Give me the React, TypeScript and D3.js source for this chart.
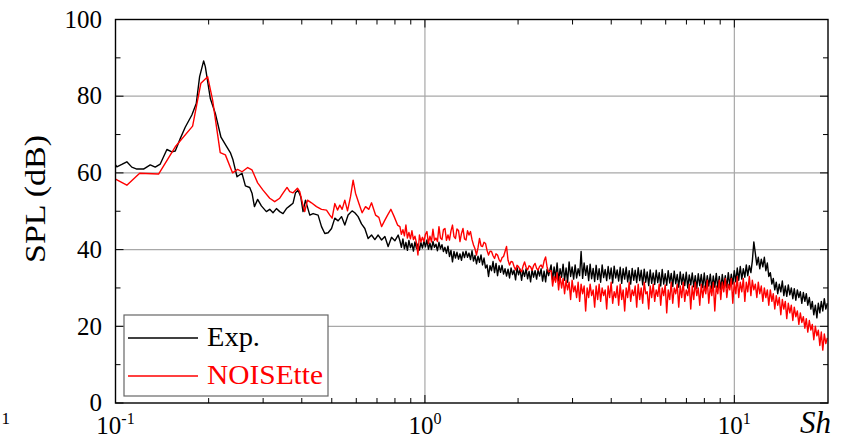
import React from "react";
import * as d3 from "d3";

// Exp. (experiment) low-frequency points: [Sh, SPL dB]
const expLow: [number, number][] = [
  [0.1, 62.1], [0.101, 61.6], [0.1048, 62.2], [0.1088, 62.9], [0.1129, 61.5], [0.1172, 61.0],
  [0.1232, 61.0], [0.1295, 62.1], [0.1344, 61.5], [0.1395, 62.3], [0.1466, 66.1], [0.1521, 65.5],
  [0.156, 65.7], [0.162, 69.0], [0.168, 71.9], [0.1765, 75.1], [0.1824, 78.1], [0.187, 85.1],
  [0.1927, 89.2], [0.1951, 87.7], [0.2025, 79.4], [0.2102, 75.5], [0.2192, 69.3], [0.2292, 66.7],
  [0.235, 65.3], [0.2397, 63.4], [0.247, 59.0], [0.2563, 59.9], [0.2629, 56.6], [0.2715, 56.2],
  [0.2762, 54.7], [0.2812, 51.2], [0.288, 53.1], [0.2961, 51.4], [0.3073, 49.9], [0.3151, 50.5],
  [0.3229, 49.6], [0.3312, 50.7], [0.3394, 49.9], [0.3479, 49.4], [0.3568, 50.7], [0.3657, 51.4],
  [0.3748, 52.1], [0.3816, 54.8], [0.389, 55.5], [0.3969, 53.8], [0.4037, 49.9], [0.4111, 52.9],
  [0.4245, 49.0], [0.4351, 49.4], [0.4516, 49.0], [0.4632, 46.0], [0.4747, 44.2], [0.4866, 44.4],
  [0.4991, 45.5], [0.5114, 48.2], [0.5241, 47.5], [0.5375, 48.6], [0.5509, 46.4], [0.5646, 49.0],
  [0.5816, 50.1], [0.5935, 49.6], [0.6082, 48.6], [0.6238, 46.7], [0.6394, 45.5], [0.6553, 42.9],
  [0.6721, 43.8], [0.6889, 42.6], [0.7061, 43.8], [0.7243, 42.5], [0.7423, 43.4], [0.7605, 40.8],
  [0.78, 43.2], [0.7995, 42.3], [0.8194, 43.8],
];

// NOISEtte (simulation) low-frequency points: [Sh, SPL dB]
const noiseLow: [number, number][] = [
  [0.1, 58.4], [0.1088, 56.8], [0.1197, 59.9], [0.1378, 59.7], [0.156, 66.8], [0.1775, 72.2],
  [0.1888, 83.4], [0.1985, 85.1], [0.206, 79.0], [0.218, 65.3], [0.2265, 64.7], [0.239, 60.0],
  [0.248, 60.9], [0.2565, 60.3], [0.2675, 61.4], [0.276, 60.8], [0.288, 57.4], [0.2997, 55.5],
  [0.3151, 53.4], [0.327, 52.5], [0.3394, 53.4], [0.3479, 54.7], [0.3584, 56.2], [0.3657, 55.1],
  [0.3748, 54.8], [0.3873, 56.0], [0.394, 55.1], [0.402, 52.1], [0.4089, 49.9], [0.4172, 52.9],
  [0.4298, 52.2], [0.4462, 51.2], [0.4632, 50.5], [0.4807, 50.3], [0.4928, 49.0], [0.5012, 48.2],
  [0.5114, 52.0], [0.5218, 50.3], [0.5308, 51.6], [0.54, 50.5], [0.5509, 52.9], [0.5621, 50.1],
  [0.5748, 53.8], [0.5861, 58.1], [0.5966, 54.7], [0.6115, 52.1], [0.6267, 49.6], [0.6428, 51.2],
  [0.6588, 50.5], [0.6721, 52.2], [0.6926, 49.0], [0.7097, 48.4], [0.7243, 46.0], [0.7423, 47.7],
  [0.7573, 49.0], [0.7762, 50.5], [0.7954, 48.6], [0.8159, 46.4],
];

// Mid-frequency shared Sh grid
const shMid: number[] = [
  0.8301, 0.8394, 0.8489, 0.8584, 0.8681, 0.8778, 0.8877, 0.8977, 0.9078, 0.918,
  0.9283, 0.9387, 0.9493, 0.96, 0.9708, 0.9817, 0.9927, 1.0038, 1.0151, 1.0265,
  1.0381, 1.0497, 1.0615, 1.0735, 1.0855, 1.0977, 1.1101, 1.1226, 1.1352, 1.1479,
  1.1608, 1.1739, 1.1871, 1.2004, 1.2139, 1.2276, 1.2414, 1.2553, 1.2694, 1.2837,
  1.2981, 1.3127, 1.3275, 1.3424, 1.3575, 1.3727, 1.3882, 1.4038, 1.4196, 1.4355,
  1.4516, 1.468, 1.4845, 1.5011, 1.518, 1.5351, 1.5523, 1.5698, 1.5874, 1.6052,
  1.6233, 1.6415, 1.66, 1.6786, 1.6975, 1.7166, 1.7359, 1.7554, 1.7751, 1.7951,
  1.8152, 1.8356, 1.8563, 1.8771, 1.8982, 1.9196, 1.9411, 1.963, 1.985, 2.0073,
  2.0299, 2.0527, 2.0758, 2.0991, 2.1227, 2.1466, 2.1707, 2.1951, 2.2198, 2.2447,
  2.27, 2.2955, 2.3213, 2.3474, 2.3737, 2.4004, 2.4274, 2.4547, 2.4823, 2.5102,
];

const expMid: number[] = [
  42.3, 40.6, 42.8, 40.2, 41.9, 39.8, 42.4, 40.5, 41.6, 39.6,
  42.0, 40.3, 41.5, 39.9, 41.8, 40.4, 42.2, 40.7, 42.5, 40.1,
  41.7, 40.0, 42.1, 40.6, 41.4, 39.7, 41.9, 40.2, 41.3, 39.5,
  40.6, 39.0, 40.9, 38.2, 39.8, 36.8, 39.5, 37.8, 39.3, 37.5,
  38.9, 37.2, 39.4, 37.9, 39.6, 38.0, 39.1, 37.4, 39.7, 37.0,
  38.5, 36.3, 38.3, 36.7, 38.6, 36.0, 37.8, 35.2, 36.0, 33.0,
  35.8, 34.5, 36.9, 34.0, 36.4, 33.2, 35.8, 34.1, 35.9, 33.6,
  35.0, 33.1, 34.9, 32.6, 35.2, 33.5, 34.6, 32.1, 35.3, 33.4,
  34.9, 32.0, 34.6, 33.0, 35.0, 32.4, 34.3, 31.6, 34.8, 32.8,
  34.5, 32.3, 34.7, 33.1, 35.0, 31.8, 34.4, 31.6, 34.9, 33.2,
];

const noiseMid: number[] = [
  46.0, 44.0, 45.2, 43.6, 46.4, 43.0, 44.5, 42.8, 44.9, 42.6,
  43.5, 41.8, 38.6, 43.8, 42.0, 43.2, 42.1, 44.0, 44.7, 41.6,
  43.5, 42.0, 45.3, 42.4, 43.0, 42.1, 46.0, 43.0, 42.6, 45.2,
  45.5, 42.4, 43.8, 42.5, 44.9, 46.4, 43.4, 42.9, 45.4, 45.0,
  42.1, 44.2, 45.5, 42.8, 42.5, 44.9, 43.8, 44.7, 42.6, 41.2,
  40.2, 38.6, 40.5, 42.9, 41.0, 40.8, 41.9, 41.6, 39.8, 38.6,
  39.6, 39.5, 38.4, 37.7, 38.9, 38.6, 37.4, 36.8, 37.9, 38.2,
  39.5, 40.8, 37.2, 36.0, 36.9, 36.8, 35.6, 34.7, 35.9, 35.5,
  34.8, 34.2, 35.7, 36.8, 35.4, 34.7, 35.8, 35.5, 34.6, 35.8,
  36.4, 35.1, 34.7, 35.6, 36.0, 35.2, 37.0, 38.1, 35.4, 34.2,
];

// High-frequency shared Sh grid (dense spectrum)
const shHigh: number[] = [
  2.557, 2.586, 2.615, 2.644, 2.674, 2.704, 2.734, 2.765, 2.796, 2.827,
  2.859, 2.891, 2.924, 2.957, 2.99, 3.024, 3.058, 3.092, 3.127, 3.162,
  3.197, 3.233, 3.27, 3.307, 3.344, 3.382, 3.419, 3.457, 3.497, 3.536,
  3.576, 3.616, 3.656, 3.697, 3.739, 3.781, 3.824, 3.867, 3.91, 3.954,
  3.998, 4.043, 4.089, 4.135, 4.181, 4.228, 4.276, 4.324, 4.372, 4.421,
  4.471, 4.521, 4.572, 4.623, 4.676, 4.729, 4.781, 4.835, 4.889, 4.944,
  5.0, 5.056, 5.113, 5.17, 5.228, 5.287, 5.346, 5.406, 5.467, 5.528,
  5.591, 5.654, 5.717, 5.781, 5.846, 5.912, 5.978, 6.045, 6.113, 6.182,
  6.252, 6.322, 6.393, 6.465, 6.537, 6.61, 6.685, 6.76, 6.836, 6.913,
  6.991, 7.07, 7.149, 7.229, 7.31, 7.392, 7.476, 7.56, 7.645, 7.731,
  7.817, 7.905, 7.994, 8.084, 8.175, 8.267, 8.36, 8.454, 8.549, 8.645,
  8.742, 8.84, 8.939, 9.039, 9.141, 9.244, 9.348, 9.453, 9.559, 9.666,
  9.775, 9.885, 9.996, 10.11, 10.22, 10.33, 10.45, 10.57, 10.69, 10.81,
  10.93, 11.05, 11.18, 11.31, 11.43, 11.56, 11.69, 11.82, 11.95, 12.08,
  12.22, 12.36, 12.5, 12.64, 12.78, 12.92, 13.07, 13.22, 13.36, 13.51,
  13.66, 13.81, 13.97, 14.13, 14.29, 14.45, 14.61, 14.77, 14.94, 15.11,
  15.28, 15.45, 15.62, 15.8, 15.98, 16.16, 16.34, 16.52, 16.71, 16.9,
  17.08, 17.27, 17.47, 17.67, 17.86, 18.06, 18.27, 18.48, 18.68, 18.89,
  19.1, 19.31, 19.53, 19.75, 19.97,
];

const expHigh: number[] = [
  36.0, 32.0, 35.5, 32.5, 36.5, 31.8, 35.0, 32.8, 36.2, 32.0,
  35.2, 31.5, 36.8, 33.0, 35.5, 32.3, 36.0, 32.6, 35.0, 33.2,
  39.5, 32.5, 36.5, 33.3, 35.8, 31.9, 36.2, 32.4, 35.1, 31.7,
  35.9, 32.2, 35.0, 31.5, 36.0, 32.7, 34.8, 31.9, 35.6, 32.4,
  35.2, 31.3, 35.7, 32.6, 34.7, 31.8, 35.4, 31.2, 35.0, 32.3,
  35.4, 31.6, 34.5, 31.0, 35.1, 32.0, 34.6, 31.4, 35.3, 31.9,
  34.6, 30.8, 34.9, 31.5, 34.2, 30.6, 34.7, 31.2, 33.9, 30.9,
  34.6, 31.4, 34.0, 30.5, 34.8, 31.0, 33.7, 30.7, 34.5, 31.3,
  33.8, 30.4, 34.4, 31.1, 33.5, 30.2, 34.2, 30.9, 33.6, 30.6,
  34.1, 30.0, 33.4, 30.8, 33.9, 30.3, 33.2, 29.9, 33.7, 30.6,
  33.5, 30.1, 33.9, 29.8, 33.2, 30.5, 33.6, 29.7, 33.1, 30.2,
  33.8, 30.0, 33.0, 29.6, 33.5, 30.4, 33.2, 30.1, 34.0, 30.6,
  33.6, 31.0, 34.5, 31.6, 35.2, 32.0, 35.6, 32.3, 35.0, 32.8,
  36.0, 33.2, 35.8, 34.0, 37.0, 42.0, 39.0, 36.0, 38.0, 35.0,
  37.5, 35.5, 38.0, 34.5, 36.5, 33.0, 34.0, 31.0, 32.5, 29.5,
  31.5, 28.5, 31.0, 29.0, 31.8, 28.0, 30.5, 27.8, 30.8, 28.2,
  30.0, 27.2, 29.8, 26.8, 29.5, 27.5, 29.0, 26.0, 28.8, 26.5,
  28.5, 25.5, 27.5, 24.5, 26.5, 23.0, 25.5, 22.2, 26.0, 23.5,
  26.5, 24.0, 27.2, 24.5, 26.0,
];

const noiseHigh: number[] = [
  34.5, 30.5, 33.0, 31.5, 34.0, 29.5, 33.0, 30.0, 32.5, 28.5,
  32.0, 29.5, 31.5, 27.0, 32.0, 29.0, 30.5, 27.5, 31.5, 26.5,
  31.0, 28.5, 30.5, 24.0, 30.0, 27.5, 31.0, 28.0, 29.5, 25.0,
  30.5, 27.0, 31.0, 26.5, 30.0, 28.0, 29.5, 24.5, 30.5, 27.5,
  31.5, 26.0, 29.0, 27.5, 30.5, 25.5, 31.0, 27.0, 29.5, 24.0,
  30.0, 27.5, 31.5, 26.5, 29.5, 28.0, 30.5, 25.0, 31.0, 27.0,
  30.0, 26.0, 31.5, 28.5, 29.0, 24.5, 30.5, 27.5, 31.0, 26.5,
  29.5, 27.8, 31.0, 25.5, 30.0, 28.0, 30.8, 23.5, 29.5, 27.0,
  31.5, 26.0, 30.0, 28.5, 31.0, 25.0, 30.5, 27.5, 31.5, 26.5,
  29.5, 28.0, 31.0, 24.5, 30.5, 27.0, 31.5, 28.0, 30.0, 25.5,
  31.0, 27.5, 30.5, 28.5, 32.0, 26.0, 30.5, 28.0, 31.5, 24.0,
  30.5, 28.5, 32.0, 27.0, 31.5, 29.0, 32.5, 27.5, 31.0, 29.5,
  32.5, 26.0, 31.5, 28.5, 33.0, 27.5, 31.5, 29.0, 32.5, 26.5,
  31.5, 29.0, 33.0, 28.0, 32.0, 29.5, 31.0, 27.5, 31.5, 28.5,
  30.5, 26.5, 30.0, 27.5, 29.5, 25.5, 29.5, 26.5, 28.5, 24.5,
  28.0, 25.5, 27.5, 23.0, 27.0, 24.5, 26.5, 22.0, 26.0, 23.5,
  25.5, 21.5, 25.0, 22.5, 24.0, 20.5, 23.5, 21.0, 22.5, 19.5,
  22.0, 18.5, 21.5, 19.0, 20.5, 16.5, 20.0, 17.5, 19.0, 15.0,
  18.5, 13.8, 18.0, 15.5, 17.0,
];

const yTicks = [0, 20, 40, 60, 80, 100];
const yMinor = [10, 30, 50, 70, 90];
const xMajor = [0.1, 1, 10];
const xMajorExp = ["-1", "0", "1"];
const xMinor = [0.2, 0.3, 0.4, 0.5, 0.6, 0.7, 0.8, 0.9, 2, 3, 4, 5, 6, 7, 8, 9];
const legendLabels = ["Exp.", "NOISEtte"];
const seriesColors = ["#000000", "#ff0000"];

const W = 846, H = 441;
const L = 115.5, R = 828, T = 19.5, B = 403;
const FONT = "'Liberation Serif', 'DejaVu Serif', serif";

type P = [number, number];

export default function App() {
  const x = d3.scaleLog().domain([0.1, 20]).range([L, 827.5]);
  const y = d3.scaleLinear().domain([0, 100]).range([B, T]);

  const zip = (xs: number[], ys: number[]): P[] => xs.map((s, i) => [s, ys[i]] as P);
  const expData: P[] = expLow.concat(zip(shMid, expMid), zip(shHigh, expHigh));
  const noiseData: P[] = noiseLow.concat(zip(shMid, noiseMid), zip(shHigh, noiseHigh));

  const line = d3.line<P>().x((d) => x(d[0])).y((d) => y(d[1]));

  return (
    <svg width={W} height={H} style={{ position: "absolute", left: 0, top: 0, background: "#fff" }}>
      <defs>
        <clipPath id="plotclip">
          <rect x={L} y={T} width={R - L} height={B - T} />
        </clipPath>
      </defs>
      <rect x={0} y={0} width={W} height={H} fill="#fff" />
      {[20, 40, 60, 80].map((v) => (
        <line key={"gy" + v} x1={L} x2={R} y1={y(v)} y2={y(v)} stroke="#a8a8a8" strokeWidth={1.2} />
      ))}
      {[1, 10].map((v) => (
        <line key={"gx" + v} x1={x(v)} x2={x(v)} y1={T} y2={B} stroke="#a8a8a8" strokeWidth={1.2} />
      ))}
      <g clipPath="url(#plotclip)" fill="none" strokeLinejoin="round">
        <path d={line(expData) || ""} stroke={seriesColors[0]} strokeWidth={1.4} />
        <path d={line(noiseData) || ""} stroke={seriesColors[1]} strokeWidth={1.4} />
      </g>
      <g stroke="#000" strokeWidth={1}>
        {yTicks.map((v) => (
          <g key={"yt" + v}>
            <line x1={L} x2={L + 8} y1={y(v)} y2={y(v)} />
            <line x1={R} x2={R - 8} y1={y(v)} y2={y(v)} />
          </g>
        ))}
        {yMinor.map((v) => (
          <g key={"ym" + v}>
            <line x1={L} x2={L + 5} y1={y(v)} y2={y(v)} />
            <line x1={R} x2={R - 5} y1={y(v)} y2={y(v)} />
          </g>
        ))}
        {xMajor.map((v) => (
          <g key={"xt" + v}>
            <line x1={x(v)} x2={x(v)} y1={B} y2={B - 8} />
            <line x1={x(v)} x2={x(v)} y1={T} y2={T + 8} />
          </g>
        ))}
        {xMinor.map((v) => (
          <g key={"xm" + v}>
            <line x1={x(v)} x2={x(v)} y1={B} y2={B - 5} />
            <line x1={x(v)} x2={x(v)} y1={T} y2={T + 5} />
          </g>
        ))}
      </g>
      <rect x={L} y={T} width={R - L} height={B - T} fill="none" stroke="#000" strokeWidth={1.4} />
      <rect x={124} y={315} width={204} height={81} fill="#fff" stroke="#666" strokeWidth={1.2} />
      {legendLabels.map((lab, i) => (
        <g key={lab}>
          <line x1={128} x2={198} y1={338 + i * 38} y2={338 + i * 38} stroke={seriesColors[i]} strokeWidth={1.3} />
          <text x={207} y={346 + i * 38} fontFamily={FONT} fontSize={27} fill={seriesColors[i]}
            textLength={i === 0 ? 53 : 116} lengthAdjust="spacingAndGlyphs">{lab}</text>
        </g>
      ))}
      {yTicks.map((v) => (
        <text key={"yl" + v} x={102} y={y(v)} dy="0.33em" textAnchor="end" fontFamily={FONT} fontSize={25} fill="#000">
          {v}
        </text>
      ))}
      {xMajor.map((v, i) => (
        <text key={"xl" + v} x={x(v)} y={434} textAnchor="middle" fontFamily={FONT} fontSize={25} fill="#000">
          10
          <tspan fontSize={16} dy={-10}>{xMajorExp[i]}</tspan>
        </text>
      ))}
      <text x={10} y={424} textAnchor="end" fontFamily={FONT} fontSize={17} fill="#000">1</text>
      <text x={831} y={433} textAnchor="end" fontFamily={FONT} fontStyle="italic" fontSize={31} fill="#000">Sh</text>
      <text transform="translate(45,199) rotate(-90)" textAnchor="middle" fontFamily={FONT} fontSize={30} fill="#000"
        textLength={128} lengthAdjust="spacingAndGlyphs">SPL (dB)</text>
    </svg>
  );
}
